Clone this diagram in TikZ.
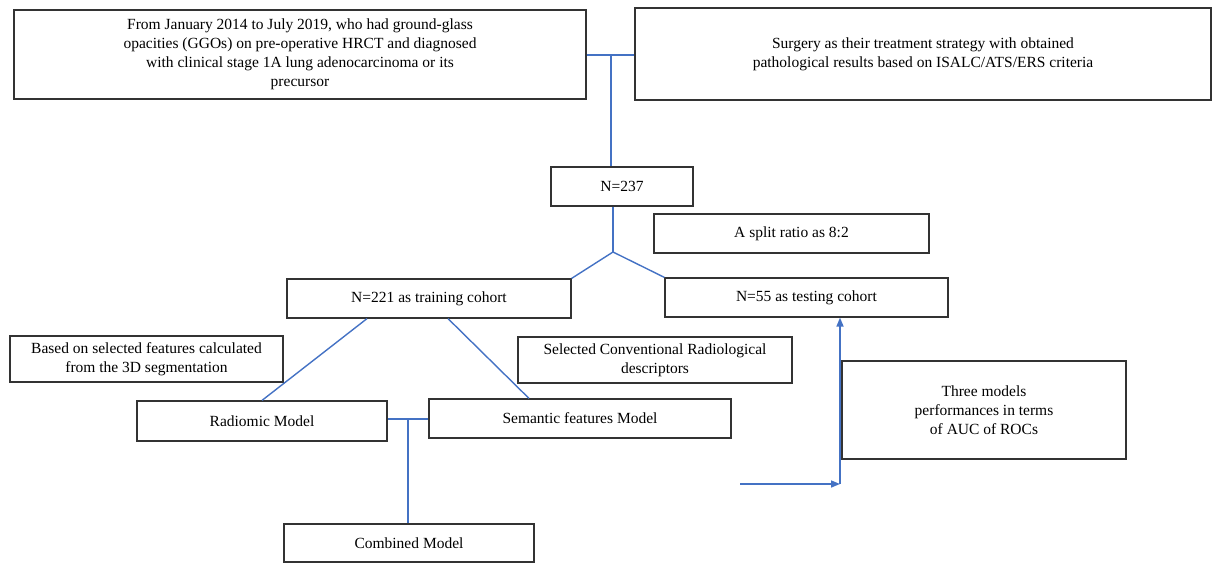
\documentclass[tikz,border=0pt]{standalone}
\usepackage{fontspec}
\setmainfont{Liberation Serif}
\usepackage{tikz}
\usetikzlibrary{arrows.meta}
\definecolor{azul}{RGB}{68,114,196}

\begin{document}
\begin{tikzpicture}[
    x=1pt, y=-1pt,
    font=\fontsize{15.5}{19}\selectfont,
    caja/.style   ={draw=black!80, fill=white, line width=1.2pt, align=center, inner sep=3pt},
    linea/.style  ={draw=azul, line width=1.4pt},
    flecha/.style ={-{Triangle[length=9pt,width=7pt]}, draw=azul, line width=1.6pt}
  ]
  \useasboundingbox (0,0) rectangle (1216,563);

  % --- criterios de inclusion --------------------------------------------
  \node[caja, minimum width=572pt, minimum height=89pt] (orig) at (300,54.5)
    {From January 2014 to July 2019, who had ground-glass\\
     opacities (GGOs) on pre-operative HRCT and diagnosed\\
     with clinical stage 1A lung adenocarcinoma or its\\
     precursor};
  \node[caja, minimum width=576pt, minimum height=92pt] (cir) at (923,54)
    {Surgery as their treatment strategy with obtained\\
     pathological results based on ISALC/ATS/ERS criteria};
  \coordinate (t1) at (611,55);
  \draw[linea] (orig.east |- t1) -- (cir.west |- t1);

  % --- cohorte y division ------------------------------------------------
  \node[caja, minimum width=142pt, minimum height=39pt] (n237) at (622,186.5) {N=237};
  \draw[linea] (t1) -- (t1 |- n237.north);

  \node[caja, minimum width=275pt, minimum height=39pt] (ratio) at (791.5,233.5) {A split ratio as 8:2};
  \node[caja, minimum width=284pt, minimum height=39pt] (n221) at (429,298.5) {N=221 as training cohort};
  \node[caja, minimum width=283pt, minimum height=39pt] (n55) at (806.5,297.5) {N=55 as testing cohort};

  \coordinate (rep) at (613,252);
  \draw[linea] (rep |- n237.south) -- (rep);
  \draw[linea] (n221.north east) -- (rep) -- (n55.north west);

  % --- modelos -----------------------------------------------------------
  \node[caja, minimum width=273pt, minimum height=46pt] (basado) at (146.5,359)
    {Based on selected features calculated\\ from the 3D segmentation};
  \node[caja, minimum width=274pt, minimum height=46pt] (selc) at (655,360)
    {Selected Conventional Radiological\\ descriptors};
  \node[caja, minimum width=250pt, minimum height=40pt] (radio) at (262,421) {Radiomic Model};
  \node[caja, minimum width=302pt, minimum height=39pt] (sema) at (580,418.5) {Semantic features Model};
  \node[caja, minimum width=250pt, minimum height=38pt] (comb) at (409,543) {Combined Model};

  \draw[linea] ([xshift=-62pt]n221.south) -- (radio.north);
  \draw[linea] ([xshift=19pt]n221.south) -- ([xshift=-51pt]sema.north);

  \coordinate (uni) at (408,419);
  \draw[linea] (radio.east |- uni) -- (sema.west |- uni);
  \draw[linea] (uni) -- (uni |- comb.north);

  % --- evaluacion --------------------------------------------------------
  \node[caja, minimum width=284pt, minimum height=98pt] (tres) at (984,410)
    {Three models\\ performances in terms\\ of AUC of ROCs};

  \coordinate (ini) at (740,484);
  \coordinate (esq) at (840,484);
  \draw[flecha] (ini) -- (esq);
  \draw[flecha] (esq) -- (esq |- n55.south);

\end{tikzpicture}
\end{document}
